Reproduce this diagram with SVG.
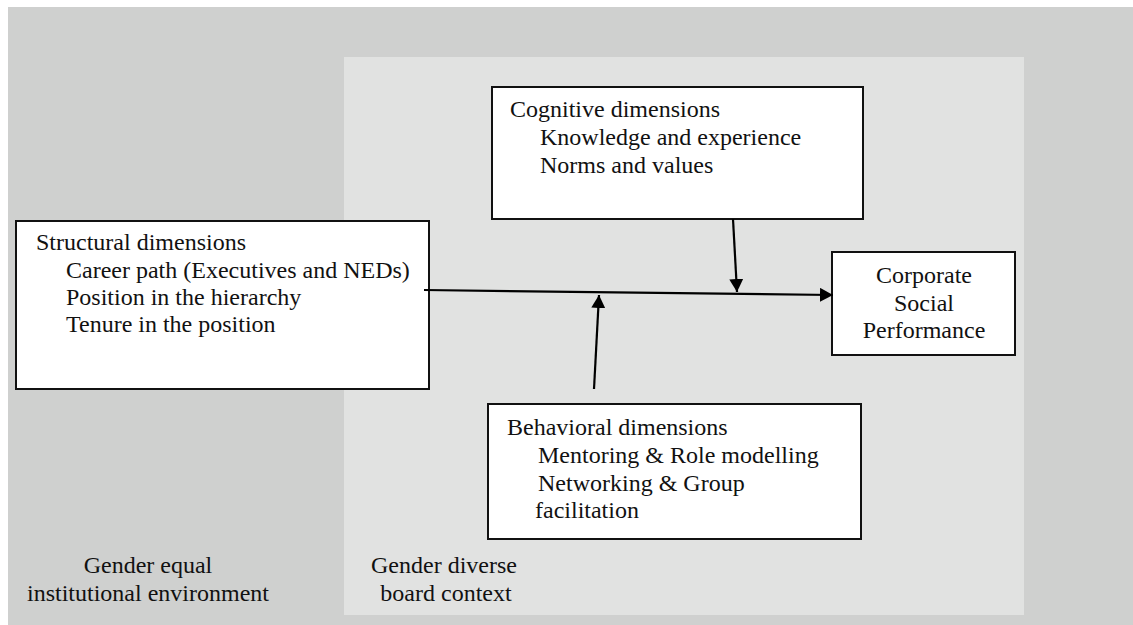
<svg xmlns="http://www.w3.org/2000/svg" width="1133" height="625" viewBox="0 0 1133 625">
<style>
.box{fill:#fff;stroke:#111;stroke-width:2}
.t{font-family:'Liberation Serif','Times New Roman',serif;font-size:24px;fill:#111}
.c{text-anchor:middle}
.ln{stroke:#000;stroke-width:2.2;fill:none;marker-end:url(#ah)}
</style>
<defs>
<marker id="ah" markerUnits="userSpaceOnUse" markerWidth="14" markerHeight="14" refX="13" refY="7" orient="auto">
<path d="M0,0 L13,7 L0,14 z" fill="#000"/>
</marker>
</defs>
<rect width="1133" height="625" fill="#fff"/>
<g id="institutional-environment">
<rect x="8" y="7" width="1125" height="618" fill="#cfd0cf"/>
<text class="t c" x="148" y="573">Gender equal</text>
<text class="t c" x="148" y="601">institutional environment</text>
</g>
<g id="board-context">
<rect x="344" y="57" width="680" height="558" fill="#e1e2e1"/>
<text class="t c" x="444" y="573">Gender diverse</text>
<text class="t c" x="446" y="601">board context</text>
</g>
<g id="structural">
<rect class="box" x="16" y="221" width="413" height="168"/>
<text class="t" x="36" y="250">Structural dimensions</text>
<text class="t" x="66" y="278">Career path (Executives and NEDs)</text>
<text class="t" x="66" y="305">Position in the hierarchy</text>
<text class="t" x="66" y="332">Tenure in the position</text>
</g>
<g id="cognitive">
<rect class="box" x="492" y="87" width="371" height="132"/>
<text class="t" x="510" y="117">Cognitive dimensions</text>
<text class="t" x="540" y="145">Knowledge and experience</text>
<text class="t" x="540" y="173">Norms and values</text>
</g>
<g id="behavioral">
<rect class="box" x="488" y="404" width="373" height="135"/>
<text class="t" x="507" y="435">Behavioral dimensions</text>
<text class="t" x="538" y="463">Mentoring &amp; Role modelling</text>
<text class="t" x="538" y="491">Networking &amp; Group</text>
<text class="t" x="535" y="518">facilitation</text>
</g>
<g id="csp">
<rect class="box" x="832" y="252" width="183" height="103"/>
<text class="t c" x="924" y="283">Corporate</text>
<text class="t c" x="924" y="311">Social</text>
<text class="t c" x="924" y="338">Performance</text>
</g>
<g id="connectors">
<line class="ln" x1="424" y1="290" x2="833" y2="295"/>
<line class="ln" x1="733" y1="219" x2="737" y2="292"/>
<line class="ln" x1="594" y1="389" x2="599" y2="295"/>
</g>
</svg>
